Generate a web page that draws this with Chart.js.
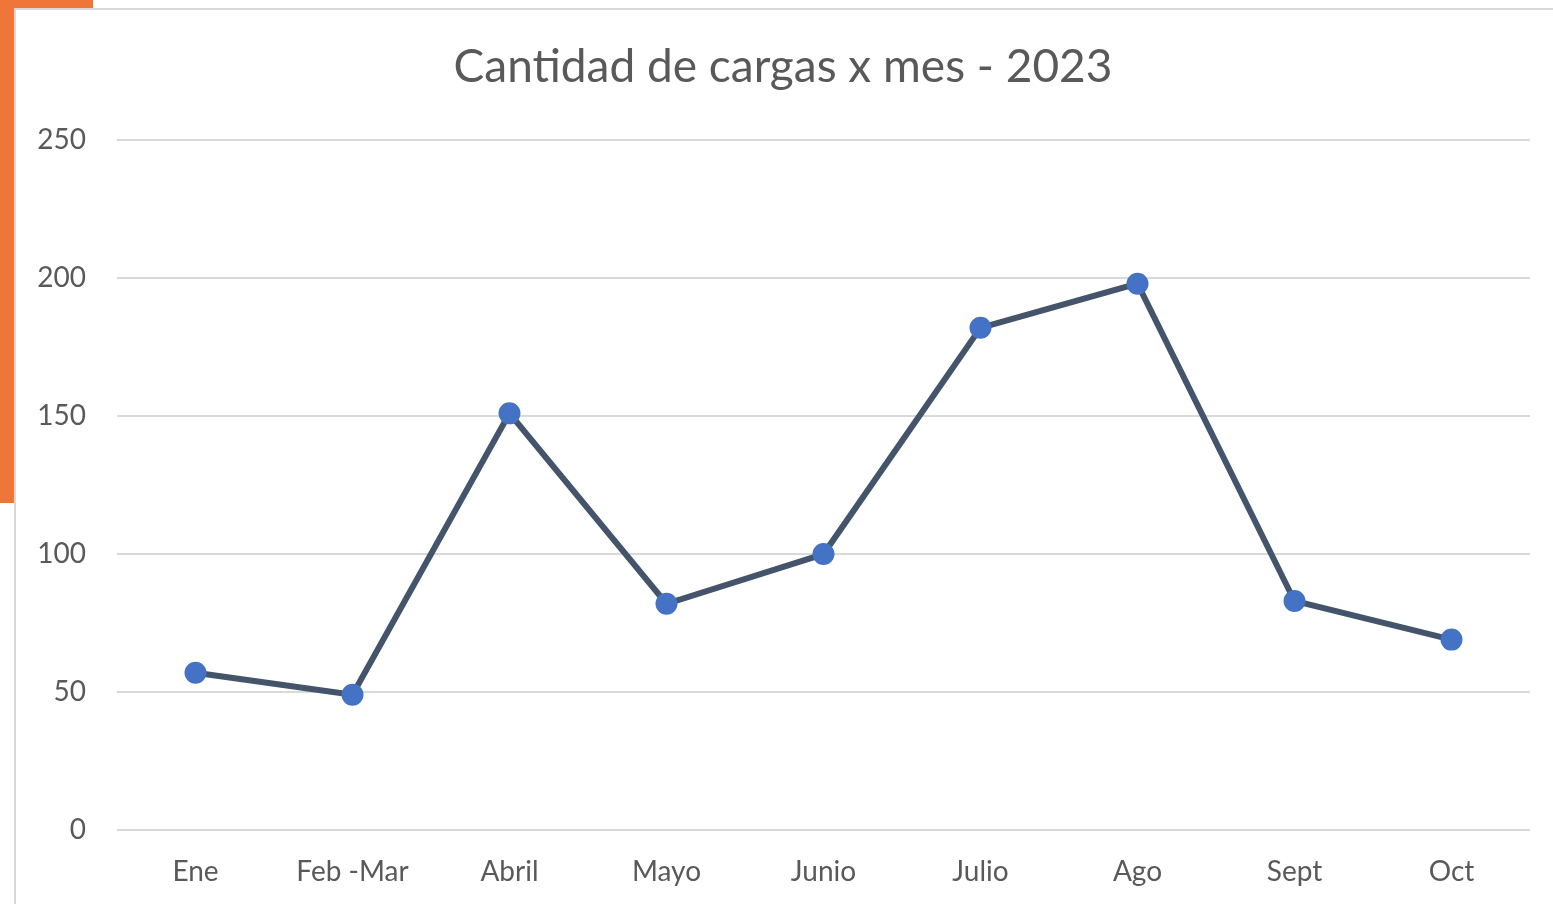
<!DOCTYPE html>
<html>
<head>
<meta charset="utf-8">
<script src="https://cdn.jsdelivr.net/npm/chart.js@4"></script>
<style>
  html, body { margin: 0; padding: 0; width: 1553px; height: 904px; overflow: hidden; background: #fff; }
  .orange-side { position: absolute; left: 0; top: 0; width: 14px; height: 503px; background: #f07538; }
  .orange-top { position: absolute; left: 0; top: 0; width: 93px; height: 8px; background: #f07538; }
  .frame { position: absolute; left: 14px; top: 8px; width: 1539px; height: 896px; background: #fff;
           border-top: 2px solid #d9d9d9; border-left: 2px solid #d9d9d9; box-sizing: border-box; }
  #wrap { position: absolute; left: 14px; top: 8px; width: 1539px; height: 896px; }
</style>
</head>
<body>
<div class="orange-side"></div>
<div class="orange-top"></div>
<div class="frame"></div>
<div id="wrap"><canvas id="lineChart"></canvas></div>
<script>
// Data
const months = ['Ene', 'Feb -Mar', 'Abril', 'Mayo', 'Junio', 'Julio', 'Ago', 'Sept', 'Oct'];
const cargas = [57, 49, 151, 82, 100, 182, 198, 83, 69];
const yTicks = [0, 50, 100, 150, 200, 250];

const txt = '#595959';
const font = "Lato, 'Open Sans', sans-serif";

const ctx = document.getElementById('lineChart').getContext('2d');
new Chart(ctx, {
  type: 'line',
  data: {
    labels: months,
    datasets: [{
      label: 'Cargas',
      data: cargas,
      borderColor: '#44546a',
      borderWidth: 6,
      pointBackgroundColor: '#4472c4',
      pointBorderColor: '#4472c4',
      pointRadius: 8,
      tension: 0,
      fill: false
    }]
  },
  options: {
    responsive: true,
    maintainAspectRatio: false,
    animation: false,
    layout: { padding: { left: 22, right: 23, top: 0, bottom: 0 } },
    plugins: {
      legend: { display: false },
      tooltip: { enabled: false },
      title: {
        display: true,
        text: 'Cantidad de cargas x mes - 2023',
        color: txt,
        font: { family: font, size: 46, weight: 'normal' },
        padding: { top: 32, bottom: 45 }
      }
    },
    scales: {
      x: {
        offset: true,
        grid: { display: false, drawTicks: false },
        border: { display: false },
        ticks: { color: txt, font: { family: font, size: 28 }, padding: 25, maxRotation: 0 },
        afterFit: s => { s.height = 74; }
      },
      y: {
        min: 0,
        max: 250,
        afterBuildTicks: s => { s.ticks = yTicks.map(v => ({ value: v })); },
        grid: { color: '#d9d9d9', lineWidth: 2, drawTicks: false },
        border: { display: false },
        ticks: { color: txt, font: { family: font, size: 28 }, padding: 31 },
        afterFit: s => { s.width = 81; }
      }
    }
  }
});
</script>
</body>
</html>
